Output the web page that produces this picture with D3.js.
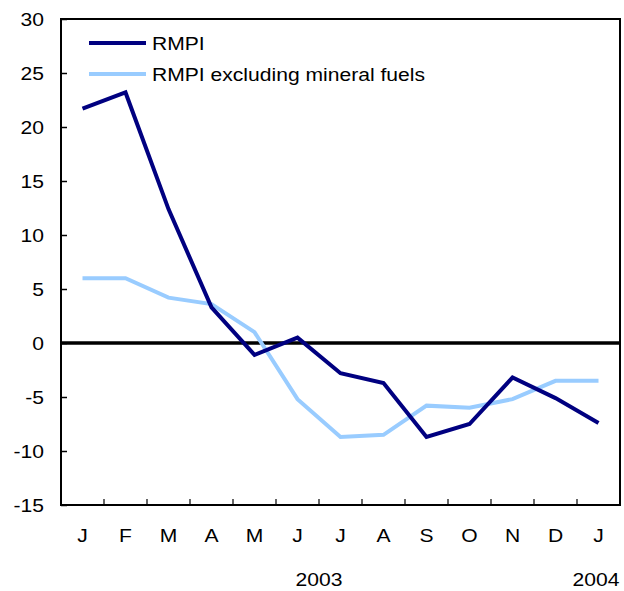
<!DOCTYPE html>
<html>
<head>
    <title></title>
    <script src="https://cdn.jsdelivr.net/npm/d3@7/dist/d3.min.js" charset="utf-8"></script>
    <style>
        body{ margin: 0; background: #ffffff; }
        text{
            font-family: "Liberation Sans", Arial, sans-serif;
            font-size: 18.5px;
            fill: #000000;
        }
    </style>
</head>
<body>

<script type="text/javascript">

    var months = ["J", "F", "M", "A", "M", "J", "J", "A", "S", "O", "N", "D", "J"],
        rmpi = [21.7, 23.2, 12.4, 3.3, -1.1, 0.5, -2.8, -3.7, -8.7, -7.5, -3.2, -5.1, -7.4],
        rmpiExFuels = [6.0, 6.0, 4.2, 3.6, 1.0, -5.2, -8.7, -8.5, -5.8, -6.0, -5.2, -3.5, -3.5],
        yTicks = [-15, -10, -5, 0, 5, 10, 15, 20, 25, 30],
        years = [{label: "2003", at: 5.5}, {label: "2004", at: 12}],
        seriesNames = ["RMPI", "RMPI excluding mineral fuels"],
        colours = ["#000080", "#99ccff"];

    var w = 624,
        h = 591,
        plotLeft = 61,
        plotRight = 620,
        plotTop = 19,
        plotBottom = 505,
        stretch = 1.14;             // the original text is a bit wide

    function place(px, py) {
        return "translate(" + px + "," + py + ") scale(" + stretch + ",1)";
    }

    var svg = d3.select("body")
            .append("svg")
            .attr("width", w)
            .attr("height", h);

    var x = d3.scaleBand()
            .domain(d3.range(months.length))
            .range([plotLeft, plotRight]);

    var y = d3.scaleLinear()
            .domain([-15, 30])
            .range([plotBottom, plotTop]);

    // frame
    svg.append("rect")
            .attr("x", plotLeft)
            .attr("y", plotTop)
            .attr("width", plotRight - plotLeft)
            .attr("height", plotBottom - plotTop)
            .attr("fill", "none")
            .attr("stroke", "#000")
            .attr("stroke-width", 2);

    // y axis, ticks point inwards
    var yAxis = svg.append("g")
            .attr("transform", "translate(" + plotLeft + ",0)")
            .call(d3.axisRight(y).tickValues(yTicks).tickSize(6).tickFormat(""));
    yAxis.select(".domain").remove();
    yAxis.selectAll("line").attr("stroke", "#000").attr("stroke-width", 1.5);

    svg.selectAll("text.ylab")
            .data(yTicks)
            .enter()
            .append("text")
            .attr("class", "ylab")
            .attr("transform", function(d){ return place(44, y(d) + 7); })
            .attr("text-anchor", "end")
            .text(function(d){ return d; });

    // x ticks between months
    svg.selectAll("line.xtick")
            .data(d3.range(1, months.length))
            .enter()
            .append("line")
            .attr("class", "xtick")
            .attr("x1", function(d){ return x(d); })
            .attr("x2", function(d){ return x(d); })
            .attr("y1", plotBottom)
            .attr("y2", plotBottom - 6)
            .attr("stroke", "#000")
            .attr("stroke-width", 1.2);

    svg.selectAll("text.xlab")
            .data(months)
            .enter()
            .append("text")
            .attr("class", "xlab")
            .attr("transform", function(d, i){ return place(x(i) + x.bandwidth() / 2, 542); })
            .attr("text-anchor", "middle")
            .text(function(d){ return d; });

    svg.selectAll("text.year")
            .data(years)
            .enter()
            .append("text")
            .attr("class", "year")
            .attr("transform", function(d){
                var cx = x(Math.floor(d.at)) + x.bandwidth() * (d.at % 1 === 0 ? 0.5 : 1);
                if (d.at === 12) cx = plotRight - 24;
                return place(cx, 586);
            })
            .attr("text-anchor", "middle")
            .text(function(d){ return d.label; });

    // zero line
    svg.append("line")
            .attr("x1", plotLeft)
            .attr("x2", plotRight)
            .attr("y1", y(0))
            .attr("y2", y(0))
            .attr("stroke", "#000")
            .attr("stroke-width", 3.5);

    var line = d3.line()
            .x(function(d, i){ return x(i) + x.bandwidth() / 2; })
            .y(function(d){ return y(d); });

    [rmpiExFuels, rmpi].forEach(function(s, k){
        svg.append("path")
                .datum(s)
                .attr("d", line)
                .attr("fill", "none")
                .attr("stroke", colours[1 - k])
                .attr("stroke-width", 4)
                .attr("stroke-linejoin", "miter");
    });

    // legend
    var legend = svg.selectAll("g.legend")
            .data(seriesNames)
            .enter()
            .append("g")
            .attr("class", "legend")
            .attr("transform", function(d, i){ return "translate(89," + (43 + i * 31) + ")"; });

    legend.append("line")
            .attr("x1", 0)
            .attr("x2", 57)
            .attr("stroke", function(d, i){ return colours[i]; })
            .attr("stroke-width", 4);

    legend.append("text")
            .attr("transform", place(63, 7))
            .text(function(d){ return d; });
</script>
</body>
</html>
